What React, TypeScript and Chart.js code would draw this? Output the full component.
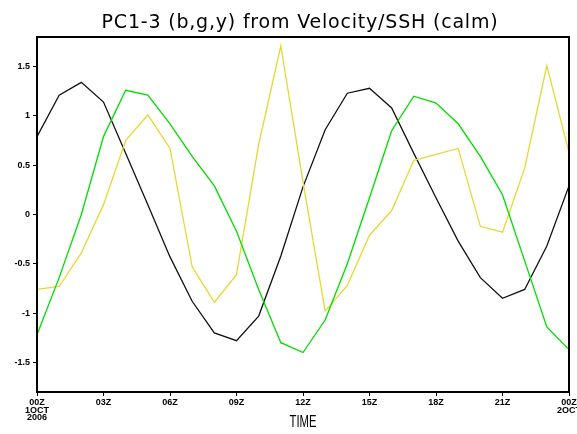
import React, { useEffect, useRef } from 'react';
import { Chart, registerables } from 'chart.js';

Chart.register(...registerables);

const W = 577;
const H = 434;

const title = 'PC1-3 (b,g,y) from Velocity/SSH (calm)';
const xAxisTitle = 'TIME';

const hours = [0, 1, 2, 3, 4, 5, 6, 7, 8, 9, 10, 11, 12, 13, 14, 15, 16, 17, 18, 19, 20, 21, 22, 23, 24];

// PC1 (black)
const pc1 = [0.79, 1.21, 1.34, 1.14, 0.62, 0.1, -0.43, -0.88, -1.2, -1.28, -1.03, -0.42, 0.28, 0.86, 1.23, 1.28, 1.08, 0.62, 0.17, -0.27, -0.64, -0.85, -0.76, -0.32, 0.29];
// PC2 (green)
const pc2 = [-1.22, -0.64, 0.0, 0.79, 1.26, 1.21, 0.92, 0.59, 0.29, -0.17, -0.76, -1.3, -1.4, -1.07, -0.5, 0.17, 0.85, 1.2, 1.13, 0.92, 0.59, 0.2, -0.47, -1.14, -1.37];
// PC3 (yellow)
const pc3 = [-0.76, -0.73, -0.39, 0.1, 0.75, 1.01, 0.67, -0.53, -0.89, -0.61, 0.71, 1.71, 0.33, -0.98, -0.72, -0.21, 0.04, 0.55, 0.61, 0.67, -0.12, -0.18, 0.47, 1.51, 0.63];

const xTickHours = [0, 3, 6, 9, 12, 15, 18, 21, 24];
const xTickLabels = [
  ['00Z', '1OCT', '2006'],
  ['03Z'],
  ['06Z'],
  ['09Z'],
  ['12Z'],
  ['15Z'],
  ['18Z'],
  ['21Z'],
  ['00Z', '2OCT'],
];
const yTickValues = [-1.5, -1, -0.5, 0, 0.5, 1, 1.5];
const yTickLabels = ['-1.5', '-1', '-0.5', '0', '0.5', '1', '1.5'];

const framePlugin = {
  id: 'frameAndTitle',
  afterDraw(chart: any) {
    const { ctx, chartArea } = chart;
    ctx.save();
    ctx.strokeStyle = '#000';
    ctx.lineWidth = 2;
    ctx.strokeRect(chartArea.left, chartArea.top, chartArea.right - chartArea.left, chartArea.bottom - chartArea.top);
    ctx.fillStyle = '#000';
    // main title
    ctx.font = '19px "DejaVu Sans"';
    (ctx as any).letterSpacing = '0.8px';
    ctx.textAlign = 'center';
    ctx.textBaseline = 'alphabetic';
    ctx.fillText(title, 300, 28);
    (ctx as any).letterSpacing = '0px';
    // x axis title (condensed)
    ctx.font = '16px "Liberation Sans"';
    const w = ctx.measureText(xAxisTitle).width;
    const target = 27;
    const cx = (chartArea.left + chartArea.right) / 2;
    ctx.translate(cx, 426.5);
    ctx.scale(target / w, 1);
    ctx.fillText(xAxisTitle, 0, 0);
    ctx.restore();
  },
};

export default function App() {
  const ref = useRef<HTMLCanvasElement>(null);
  useEffect(() => {
    const mk = (vals: number[]) => hours.map((h, i) => ({ x: h, y: vals[i] }));
    const ds = (vals: number[], color: string) => ({
      data: mk(vals),
      borderColor: color,
      backgroundColor: color,
      borderWidth: 1.3,
      pointRadius: 0,
      fill: false,
      tension: 0,
    });
    const chart = new Chart(ref.current as HTMLCanvasElement, {
      type: 'line',
      data: {
        datasets: [ds(pc2, '#00dc00'), ds(pc3, '#e6d832'), ds(pc1, '#111111')],
      },
      options: {
        responsive: false,
        animation: false,
        devicePixelRatio: 1,
        layout: { padding: { left: 0, right: 8, top: 37, bottom: 0 } },
        plugins: { legend: { display: false }, tooltip: { enabled: false }, title: { display: false } },
        scales: {
          x: {
            type: 'linear',
            min: 0,
            max: 24,
            afterBuildTicks: (s: any) => {
              s.ticks = xTickHours.map((v) => ({ value: v }));
            },
            afterFit: (s: any) => {
              s.height = 42;
              s.paddingLeft = 0;
              s.paddingRight = 0;
            },
            ticks: {
              autoSkip: false,
              maxRotation: 0,
              color: '#000',
              padding: 3,
              font: { family: 'Liberation Sans', size: 9, weight: 'bold', lineHeight: 0.82 },
              callback: (v: any) => xTickLabels[xTickHours.indexOf(Number(v))],
            },
            grid: { display: true, drawOnChartArea: false, tickLength: 4, color: '#000', lineWidth: 1 },
            border: { display: false },
          },
          y: {
            type: 'linear',
            min: -1.8,
            max: 1.8,
            afterBuildTicks: (s: any) => {
              s.ticks = yTickValues.map((v) => ({ value: v }));
            },
            afterFit: (s: any) => {
              s.width = 37;
              s.paddingTop = 0;
              s.paddingBottom = 0;
            },
            ticks: {
              color: '#000',
              padding: 3,
              font: { family: 'Liberation Sans', size: 9, weight: 'bold' },
              callback: (v: any) => yTickLabels[yTickValues.indexOf(Number(v))],
            },
            grid: { display: true, drawOnChartArea: false, tickLength: 4, color: '#000', lineWidth: 1 },
            border: { display: false },
          },
        },
      },
      plugins: [framePlugin],
    });
    return () => chart.destroy();
  }, []);
  return (
    <div style={{ position: 'absolute', left: 0, top: 0, width: W, height: H, background: '#fff' }}>
      <canvas ref={ref} width={W} height={H} style={{ width: W, height: H, display: 'block' }} />
    </div>
  );
}
